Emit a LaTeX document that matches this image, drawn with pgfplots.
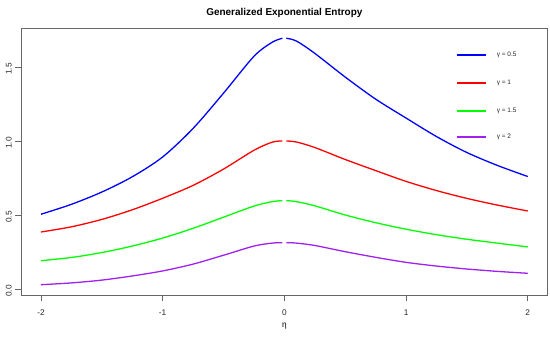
\documentclass[border=0pt]{standalone}
\usepackage{pgfplots}
\pgfplotsset{compat=1.18}
\usepackage{fontspec}
\setmainfont{Liberation Sans}
\definecolor{rblue}{RGB}{0,0,255}
\definecolor{rred}{RGB}{255,0,0}
\definecolor{rgreen}{RGB}{0,255,0}
\definecolor{rpurple}{RGB}{160,32,240}
\begin{document}
\begin{tikzpicture}
\path[use as bounding box] (-21bp,-44.5bp) rectangle (529bp,295.5bp);
\begin{axis}[
  at={(0,0)}, anchor=south west,
  scale only axis, width=526.7bp, height=267bp,
  xmin=-2.164, xmax=2.164, ymin=-0.044, ymax=1.760,
  xtick={-2,-1,0,1,2}, ytick={0,0.5,1,1.5},
  xtick pos=bottom, ytick pos=left,
  tick align=outside, major tick length=5.7bp,
  axis line style={black!60, line width=0.6pt},
  every tick/.style={black!60, line width=0.6pt},
  /pgf/number format/assume math mode=true,
  tick label style={font=\fontsize{8.3}{10}\selectfont, text=black!85},
  xticklabel style={yshift=-5bp},
  yticklabel style={rotate=90, anchor=south, xshift=-2bp, /pgf/number format/fixed, /pgf/number format/fixed zerofill, /pgf/number format/precision=1},
  title={Generalized Exponential Entropy},
  title style={font=\bfseries\fontsize{10}{12}\selectfont, at={(0.5,1)}, anchor=center, yshift=9.5bp},
  xlabel={η},
  xlabel style={font=\fontsize{8.3}{10}\selectfont, at={(0.5,0)}, anchor=center, yshift=-31bp},
  every axis plot/.append style={line width=1.3pt, smooth, no markers},
]
% gamma = 0.5 (left and right of the peak)
\addplot[rblue] coordinates {
(-2,0.505) (-1.75,0.572) (-1.5,0.655) (-1.25,0.758) (-1,0.892) (-0.75,1.085) (-0.5,1.323) (-0.25,1.572) (-0.1,1.667) (-0.016,1.694)};
\addplot[rblue] coordinates {
(0.016,1.694) (0.1,1.675) (0.25,1.592) (0.5,1.432) (0.75,1.283) (1,1.155) (1.25,1.030) (1.5,0.922) (1.75,0.835) (2,0.760)};
% gamma = 1
\addplot[rred] coordinates {
(-2,0.385) (-1.75,0.42) (-1.5,0.47) (-1.25,0.535) (-1,0.613) (-0.75,0.70) (-0.5,0.81) (-0.25,0.937) (-0.1,0.992) (-0.016,1.0)};
\addplot[rred] coordinates {
(0.016,1.0) (0.1,0.993) (0.25,0.956) (0.5,0.875) (0.75,0.80) (1,0.727) (1.25,0.665) (1.5,0.612) (1.75,0.567) (2,0.527)};
% gamma = 1.5
\addplot[rgreen] coordinates {
(-2,0.191) (-1.75,0.213) (-1.5,0.246) (-1.25,0.29) (-1,0.344) (-0.75,0.410) (-0.5,0.485) (-0.25,0.56) (-0.1,0.59) (-0.016,0.597)};
\addplot[rgreen] coordinates {
(0.016,0.597) (0.1,0.59) (0.25,0.562) (0.5,0.50) (0.75,0.448) (1,0.404) (1.25,0.367) (1.5,0.336) (1.75,0.31) (2,0.284)};
% gamma = 2
\addplot[rpurple] coordinates {
(-2,0.029) (-1.75,0.041) (-1.5,0.06) (-1.25,0.088) (-1,0.122) (-0.75,0.168) (-0.5,0.228) (-0.25,0.29) (-0.1,0.31) (-0.016,0.313)};
\addplot[rpurple] coordinates {
(0.016,0.313) (0.1,0.31) (0.25,0.294) (0.5,0.252) (0.75,0.214) (1,0.180) (1.25,0.155) (1.5,0.135) (1.75,0.119) (2,0.106)};
% legend
\draw[rblue, line width=1.6pt] (axis description cs:0.827,0.9007) -- (axis description cs:0.882,0.9007);
\draw[rred, line width=1.6pt] (axis description cs:0.827,0.7959) -- (axis description cs:0.882,0.7959);
\draw[rgreen, line width=1.6pt] (axis description cs:0.827,0.6910) -- (axis description cs:0.882,0.6910);
\draw[rpurple, line width=1.6pt] (axis description cs:0.827,0.5936) -- (axis description cs:0.882,0.5936);
\node[anchor=west, inner sep=0pt, font=\fontsize{6.5}{7.5}\selectfont, text=black!85] at (axis description cs:0.903,0.9007) {γ = 0.5};
\node[anchor=west, inner sep=0pt, font=\fontsize{6.5}{7.5}\selectfont, text=black!85] at (axis description cs:0.903,0.7959) {γ = 1};
\node[anchor=west, inner sep=0pt, font=\fontsize{6.5}{7.5}\selectfont, text=black!85] at (axis description cs:0.903,0.6910) {γ = 1.5};
\node[anchor=west, inner sep=0pt, font=\fontsize{6.5}{7.5}\selectfont, text=black!85] at (axis description cs:0.903,0.5936) {γ = 2};
\end{axis}
\end{tikzpicture}
\end{document}
